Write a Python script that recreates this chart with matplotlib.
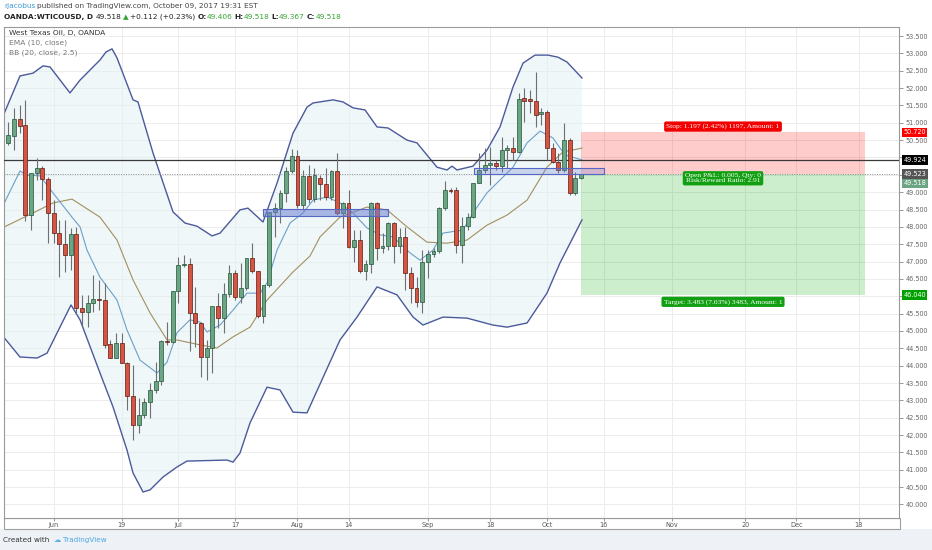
import matplotlib
matplotlib.use("Agg")
import matplotlib.pyplot as plt
from matplotlib.patches import Rectangle
from matplotlib.transforms import blended_transform_factory
import numpy as np

# ---------------- data ----------------
opens = [50.42, 50.62, 51.11, 50.94, 48.34, 49.55, 49.70, 49.38, 48.40, 47.82,
         47.50, 47.19, 47.79, 45.66, 45.55, 45.81, 45.93, 45.88, 44.62, 44.22,
         44.65, 44.08, 43.13, 42.29, 42.58, 42.95, 43.30, 43.56, 44.72, 44.69,
         46.16, 46.90, 46.93, 45.52, 45.23, 44.25, 44.51, 45.72, 45.37, 46.07,
         46.67, 45.98, 46.24, 47.10, 46.73, 45.43, 46.32, 48.43, 48.54, 48.98,
         49.61, 50.04, 48.63, 49.47, 48.80, 49.42, 49.24, 48.86, 49.61, 48.40,
         48.69, 47.42, 47.62, 46.73, 46.93, 48.69, 47.39, 47.45, 48.12, 47.45,
         47.71, 46.67, 46.24, 45.83, 46.99, 47.22, 47.30, 48.54, 49.06, 49.06,
         47.48, 48.02, 48.28, 49.26, 49.64, 49.78, 49.84, 49.75, 50.21, 50.27,
         50.16, 51.70, 51.68, 51.63, 51.25, 51.31, 50.27, 49.87, 49.64, 50.50,
         48.98, 49.406]
highs = [51.02, 51.43, 51.51, 51.66, 49.55, 49.98, 49.75, 49.44, 48.77, 48.20,
         48.20, 47.97, 48.00, 46.04, 46.04, 46.61, 46.47, 46.38, 44.74, 44.94,
         44.94, 44.11, 44.02, 43.07, 43.07, 43.50, 44.10, 44.74, 45.26, 46.16,
         47.13, 47.19, 47.10, 46.27, 45.26, 44.74, 45.72, 46.10, 46.38, 46.90,
         46.76, 46.96, 47.10, 47.53, 46.73, 46.32, 48.43, 48.69, 49.06, 49.73,
         50.24, 50.21, 49.64, 49.79, 49.70, 49.49, 49.70, 49.64, 50.13, 48.72,
         49.06, 47.91, 47.91, 47.04, 48.72, 48.72, 47.83, 48.14, 48.14, 47.97,
         48.00, 46.84, 46.55, 47.33, 47.33, 47.39, 48.57, 49.32, 49.12, 49.15,
         48.28, 48.40, 49.26, 50.13, 50.27, 50.30, 49.93, 50.59, 50.36, 50.59,
         51.86, 52.00, 51.94, 52.46, 51.43, 51.37, 50.42, 50.13, 50.99, 50.56,
         49.58, 49.518]
lows = [50.36, 50.21, 50.70, 48.16, 47.91, 49.35, 48.77, 47.53, 47.53, 46.55,
        46.70, 46.76, 45.52, 45.11, 45.11, 45.55, 45.60, 44.51, 44.22, 44.22,
        44.08, 42.72, 41.86, 42.07, 42.49, 42.49, 43.21, 43.44, 44.60, 44.65,
        45.81, 46.84, 44.42, 44.54, 43.67, 43.59, 43.79, 45.08, 44.94, 45.98,
        45.89, 45.81, 46.18, 46.67, 45.37, 45.23, 46.27, 47.71, 48.11, 48.72,
        49.55, 48.54, 48.49, 48.69, 48.72, 48.77, 48.77, 48.77, 48.34, 47.97,
        47.39, 46.99, 46.67, 46.47, 46.67, 47.04, 47.25, 47.33, 46.96, 47.25,
        46.18, 45.81, 45.69, 45.52, 46.53, 47.13, 47.25, 48.49, 48.98, 47.25,
        46.96, 47.91, 48.25, 49.26, 49.55, 49.21, 49.64, 49.58, 49.70, 49.93,
        50.13, 51.02, 51.28, 50.88, 50.94, 49.93, 49.84, 49.55, 49.58, 48.92,
        48.92, 49.367]
closes = [50.65, 51.11, 50.91, 48.34, 49.55, 49.70, 49.38, 48.40, 47.82, 47.50,
          47.19, 47.79, 45.66, 45.55, 45.81, 45.93, 45.88, 44.60, 44.22, 44.65,
          44.08, 43.13, 42.29, 42.58, 42.95, 43.30, 43.56, 44.72, 44.69, 46.16,
          46.90, 46.93, 45.52, 45.23, 44.25, 44.51, 45.72, 45.37, 46.07, 46.67,
          45.98, 46.24, 47.10, 46.73, 45.43, 46.32, 48.43, 48.54, 48.98, 49.61,
          50.04, 48.63, 49.47, 48.80, 49.50, 49.24, 48.86, 49.61, 48.40, 48.69,
          47.42, 47.62, 46.73, 46.93, 48.69, 47.39, 47.45, 48.12, 47.45, 47.71,
          46.67, 46.24, 45.83, 46.99, 47.22, 47.30, 48.54, 49.06, 49.03, 47.48,
          48.02, 48.28, 49.26, 49.64, 49.78, 49.84, 49.75, 50.21, 50.27, 50.16,
          51.68, 51.64, 51.62, 51.22, 51.31, 50.27, 49.87, 49.64, 50.50, 48.98,
          49.406, 49.518]

# Bollinger band (20, 2.5) upper / lower / basis and EMA(10), read at bar positions
upper_idx = [-0.7, 2.06, 4.36, 6.12, 7.35, 10.88, 12.65, 16.17, 17.23, 18.29, 19.17,
             22.0, 22.87, 25.52, 29.05, 31.16, 33.28, 35.93, 37.34, 40.86, 42.27, 44.92,
             47.39, 50.21, 52.68, 53.74, 57.27, 59.03, 60.79, 62.91, 65.03, 66.97, 70.32,
             72.08, 73.84, 75.6, 77.37, 78.25, 79.13, 81.95, 84.42, 86.72, 89.01, 90.78,
             92.89, 95.19, 96.95, 98.54, 101.18]
upper_val = [51.28, 52.35, 52.43, 52.64, 52.61, 51.86, 52.23, 52.81, 53.04, 53.13, 52.87,
             51.66, 51.60, 50.13, 48.43, 48.11, 48.02, 47.74, 47.82, 48.49, 48.54, 48.14,
             49.26, 50.70, 51.45, 51.57, 51.66, 51.60, 51.43, 51.37, 50.88, 50.85, 50.50,
             50.42, 50.07, 49.72, 49.64, 49.75, 49.64, 49.75, 50.21, 50.88, 52.03, 52.72,
             52.95, 52.95, 52.89, 52.75, 52.29]
lower_idx = [-0.7, 2.06, 5.06, 6.83, 8.59, 11.06, 12.65, 16.17, 18.47, 20.93, 21.99,
             23.76, 25.0, 27.28, 29.75, 31.51, 38.57, 39.63, 40.86, 42.63, 45.63, 47.92,
             50.21, 52.68, 58.5, 61.5, 65.03, 68.56, 71.38, 73.14, 76.67, 80.9, 85.49,
             87.96, 91.49, 95.0, 97.3, 101.18]
lower_val = [44.80, 44.25, 44.22, 44.36, 44.94, 45.75, 45.32, 43.79, 42.81, 41.57, 40.91,
             40.36, 40.42, 40.79, 41.08, 41.25, 41.28, 41.22, 41.48, 42.35, 43.38, 43.30,
             42.66, 42.64, 44.74, 45.40, 46.27, 46.04, 45.40, 45.17, 45.40, 45.37, 45.17,
             45.11, 45.23, 46.09, 46.96, 48.20]
basis_idx = [-0.7, 4.36, 7.88, 11.23, 16.17, 19.17, 22.0, 25.0, 28.0, 29.75, 33.8, 36.81,
             39.63, 42.63, 45.63, 50.21, 53.21, 54.97, 58.5, 63.26, 66.79, 70.32, 73.84,
             77.37, 80.9, 84.42, 87.96, 91.49, 95.0, 97.83, 101.18]
basis_val = [48.00, 48.40, 48.69, 48.80, 48.28, 47.62, 46.47, 45.52, 44.74, 44.74, 44.60,
             44.51, 44.83, 45.11, 45.89, 46.70, 47.16, 47.71, 48.28, 48.57, 48.49, 48.00,
             47.56, 47.53, 47.62, 48.05, 48.34, 48.77, 49.72, 50.16, 50.27]
ema_idx = [-0.7, 2.06, 3.3, 5.59, 7.88, 11.23, 12.65, 13.88, 16.17, 19.17, 20.93, 23.23,
           26.23, 27.99, 29.75, 32.04, 33.8, 35.04, 37.34, 39.63, 42.1, 44.4, 45.63, 47.39,
           49.68, 51.98, 53.74, 56.21, 58.5, 60.79, 63.26, 65.56, 67.85, 70.85, 72.61,
           74.9, 76.67, 80.19, 81.95, 84.42, 86.72, 89.01, 91.49, 93.78, 96.07, 98.19,
           101.18]
ema_val = [48.69, 49.61, 49.49, 49.47, 48.98, 48.28, 48.00, 47.33, 46.55, 45.89, 45.03,
           44.16, 43.79, 44.10, 44.95, 45.32, 45.26, 44.97, 45.17, 45.60, 46.09, 46.09,
           46.38, 47.33, 48.11, 48.40, 48.77, 48.86, 48.69, 48.40, 47.97, 47.77, 47.71,
           47.25, 47.04, 47.33, 47.82, 47.91, 48.40, 48.98, 49.35, 49.72, 50.42, 50.76,
           50.56, 50.07, 49.93]

date_tick_idx = [8, 20, 30, 40, 51, 60, 74, 85, 95, 105, 117, 130, 139, 150]
date_tick_lbl = ['Jun', '19', 'Jul', '17', 'Aug', '14', 'Sep', '18', 'Oct', '16',
                 'Nov', '20', 'Dec', '18']
price_ticks = [40.0 + 0.5 * k for k in range(28)]
hidden_price_ticks = [46.0, 49.5, 50.0]

hline_price = 49.924
last_price = 49.523
stop_price = 50.72
target_price = 46.04
entry_start, entry_end = 101.0, 151.1
zone1 = (44.9, 66.97, 48.31, 48.51)
zone2 = (82.1, 105.07, 49.52, 49.70)

# ---------------- figure ----------------
W, H = 932, 550
fig = plt.figure(figsize=(W / 100, H / 100), dpi=100)
fig.patch.set_facecolor('white')
fig.patches.append(Rectangle((0, 0), 1, 21 / H, transform=fig.transFigure,
                             facecolor='#eef2f6', edgecolor='none', zorder=-10))
fig.patches.append(Rectangle((4 / W, 21 / H), 896 / W, 11 / H, transform=fig.transFigure,
                             facecolor='white', edgecolor='#a0a0a0', lw=0.8, zorder=-9))

ax = fig.add_axes([4 / W, 32 / H, 895 / W, 491 / H])
ax.set_facecolor('white')
ax.set_xlim(-0.76, 157.09)
ax.set_ylim(39.61, 53.76)

for s in ['left', 'top', 'bottom', 'right']:
    ax.spines[s].set_color('#9a9a9a')
    ax.spines[s].set_linewidth(0.8)

# grid
for p in price_ticks:
    ax.axhline(p, color='#ececec', lw=0.7, zorder=0)
for d in date_tick_idx:
    ax.axvline(d, color='#ececec', lw=0.7, zorder=0)

# Bollinger fill
poly_x = list(upper_idx) + list(lower_idx[::-1])
poly_y = list(upper_val) + list(lower_val[::-1])
ax.fill(poly_x, poly_y, color='#e3f1f4', alpha=0.55, lw=0, zorder=1)

# risk / reward zones
ax.add_patch(Rectangle((entry_start, last_price), entry_end - entry_start,
                       stop_price - last_price, facecolor='#ff0000', alpha=0.2,
                       edgecolor='none', zorder=1.5))
ax.add_patch(Rectangle((entry_start, target_price), entry_end - entry_start,
                       last_price - target_price, facecolor='#00aa00', alpha=0.2,
                       edgecolor='none', zorder=1.5))

# band lines
ax.plot(upper_idx, upper_val, color='#4b5a9b', lw=1.0, zorder=2)
ax.plot(lower_idx, lower_val, color='#4b5a9b', lw=1.0, zorder=2)
ax.plot(basis_idx, basis_val, color='#a38f5f', lw=0.8, zorder=2)
ax.plot(ema_idx, ema_val, color='#6d9fc8', lw=0.8, zorder=2)

# horizontal lines
ax.axhline(hline_price, color='#3a3a3a', lw=0.9, zorder=3)
ax.axhline(last_price, color='#8a8a8a', lw=0.7, ls=(0, (1, 1.5)), zorder=3)

# candles
x = np.arange(len(closes))
o = np.array(opens); c = np.array(closes); hi = np.array(highs); lo = np.array(lows)
up = c >= o
ax.vlines(x, lo, hi, color='#6f6f72', lw=0.8, zorder=4)
body_bottom = np.minimum(o, c)
body_h = np.maximum(np.abs(c - o), 0.025)
ax.bar(x[up], body_h[up], bottom=body_bottom[up], width=0.68,
       color='#6ba583', edgecolor='#225437', linewidth=0.5, zorder=5)
ax.bar(x[~up], body_h[~up], bottom=body_bottom[~up], width=0.68,
       color='#d75442', edgecolor='#5b1a13', linewidth=0.5, zorder=5)

# support zones
for (x0, x1, y0, y1), a in [(zone1, 0.55), (zone2, 0.3)]:
    ax.add_patch(Rectangle((x0, y0), x1 - x0, y1 - y0, facecolor='#6f82d2', alpha=a,
                           edgecolor='none', zorder=6))
    ax.add_patch(Rectangle((x0, y0), x1 - x0, y1 - y0, facecolor='none',
                           edgecolor='#5566c4', lw=0.8, zorder=6))

# risk/reward labels
lbl_x = (entry_start + entry_end) / 2
serif = 'Liberation Serif'
ax.text(lbl_x, 50.89, 'Stop: 1.197 (2.42%) 1197, Amount: 1', ha='center', va='center',
        fontsize=5.4, family=serif, color='white', zorder=8,
        bbox=dict(boxstyle='round,pad=0.3,rounding_size=0.25', fc='#f20000', ec='none'))
ax.text(lbl_x, 49.40, 'Open P&L: 0.005, Qty: 0\nRisk/Reward Ratio: 2.91', ha='center',
        va='center', fontsize=5.4, family=serif, color='white', zorder=8,
        multialignment='center', linespacing=0.95,
        bbox=dict(boxstyle='round,pad=0.3,rounding_size=0.25', fc='#12a012', ec='none'))
ax.text(lbl_x, 45.84, 'Target: 3.483 (7.03%) 3483, Amount: 1', ha='center', va='center',
        fontsize=5.4, family=serif, color='white', zorder=8,
        bbox=dict(boxstyle='round,pad=0.3,rounding_size=0.25', fc='#12a012', ec='none'))

# axes ticks
ax.yaxis.tick_right()
ax.set_yticks(price_ticks)
ax.set_yticklabels(['' if p in hidden_price_ticks else f'{p:.3f}' for p in price_ticks])
ax.tick_params(axis='y', length=3, width=0.6, color='#888888', labelsize=4.7,
               labelcolor='#666666', pad=2)
ax.set_xticks(date_tick_idx)
ax.set_xticklabels(date_tick_lbl)
ax.tick_params(axis='x', length=2.0, width=0.6, color='#888888', labelsize=4.7,
               labelcolor='#555555', pad=1.2)

# right price labels
bt = blended_transform_factory(ax.transAxes, ax.transData)
def price_tag(price, text, fc, dy=0):
    ax.annotate(text, xy=(1.0, price), xycoords=bt, xytext=(3, dy),
                textcoords='offset points', ha='left', va='center', fontsize=4.7,
                color='white', zorder=10, annotation_clip=False,
                bbox=dict(boxstyle='square,pad=0.25', fc=fc, ec='none'))

price_tag(stop_price, '50.720', '#ff0000')
price_tag(hline_price, '49.924', '#000000')
price_tag(last_price, '49.523', '#555555')
price_tag(49.518, '49.518', '#6ba583', dy=-6.5)
price_tag(target_price, '46.040', '#00a000')

# legend text inside chart
ax.text(0.0056, 0.988, 'West Texas Oil, D, OANDA', transform=ax.transAxes, fontsize=5.4,
        color='#333333', va='center', ha='left', zorder=9)
ax.text(0.0056, 0.968, 'EMA (10, close)', transform=ax.transAxes, fontsize=5.4,
        color='#777777', va='center', ha='left', zorder=9)
ax.text(0.0056, 0.948, 'BB (20, close, 2.5)', transform=ax.transAxes, fontsize=5.4,
        color='#777777', va='center', ha='left', zorder=9)

# header
def chain(x_px, y_px, parts, size):
    s, col, wt, _ = parts[0]
    t = fig.text(x_px / W, 1 - y_px / H, s, color=col, fontweight=wt, fontsize=size,
                 va='center', ha='left', zorder=20)
    for s, col, wt, gap in parts[1:]:
        t = ax.annotate(s, xy=(1, 0.5), xycoords=t, xytext=(gap, 0),
                        textcoords='offset points', va='center', ha='left',
                        color=col, fontweight=wt, fontsize=size, annotation_clip=False,
                        zorder=20)

green = '#35a535'
dark = '#222222'
chain(4, 6, [('rjacobus', '#3d9ad6', 'normal', 0),
             ('published on TradingView.com, October 09, 2017 19:31 EST', '#444444', 'normal', 1.4)], 5.3)
chain(4, 17, [('OANDA:WTICOUSD, D', dark, 'bold', 0),
              ('49.518', dark, 'normal', 2.0),
              ('\u25B2', green, 'normal', 1.0),
              ('+0.112 (+0.23%)', dark, 'normal', 1.0),
              ('O:', dark, 'bold', 1.5), ('49.406', green, 'normal', 0),
              ('H:', dark, 'bold', 1.5), ('49.518', green, 'normal', 0),
              ('L:', dark, 'bold', 1.5), ('49.367', green, 'normal', 0),
              ('C:', dark, 'bold', 1.5), ('49.518', green, 'normal', 0)], 5.3)

# footer
chain(3, 540, [('Created with', '#333333', 'normal', 0),
               ('\u2601', '#5bb0e6', 'normal', 3.5),
               ('TradingView', '#4aa6e0', 'normal', 1.5)], 5.2)

fig.savefig('out.png', dpi=100)
